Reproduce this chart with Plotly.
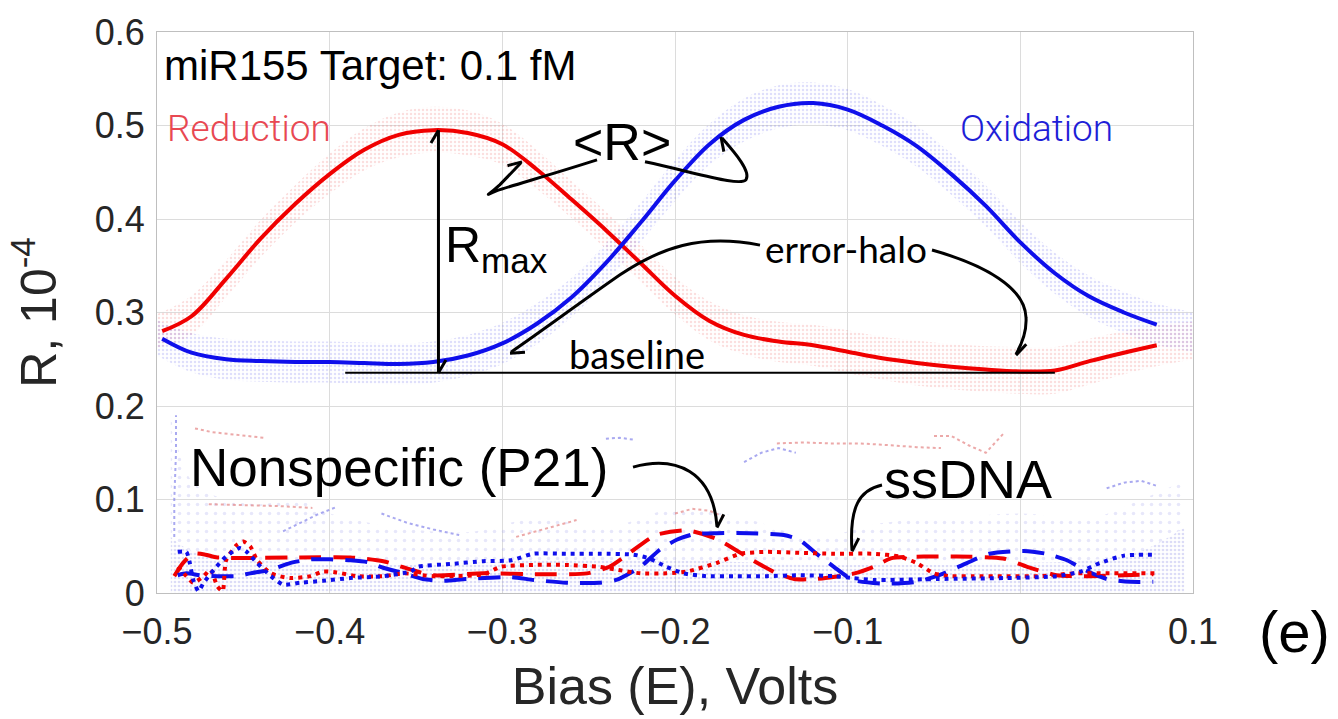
import math
import plotly.graph_objects as go

# ---------------- data ----------------
x_main = [-0.497, -0.48, -0.46, -0.44, -0.42, -0.40, -0.38, -0.36, -0.34, -0.32, -0.30, -0.28, -0.26, -0.24,
          -0.22, -0.20, -0.18, -0.16, -0.14, -0.12, -0.10, -0.08, -0.06, -0.04, -0.02, 0.00, 0.02, 0.04, 0.06, 0.079]
reduction_R = [0.280, 0.296, 0.336, 0.379, 0.416, 0.448, 0.474, 0.490, 0.495, 0.492, 0.480, 0.453, 0.421, 0.388,
               0.353, 0.318, 0.291, 0.276, 0.269, 0.265, 0.258, 0.251, 0.246, 0.242, 0.239, 0.237, 0.238, 0.248, 0.257, 0.265]
oxidation_R = [0.272, 0.257, 0.250, 0.248, 0.247, 0.247, 0.246, 0.245, 0.247, 0.254, 0.267, 0.288, 0.316, 0.353,
               0.396, 0.441, 0.480, 0.506, 0.520, 0.524, 0.517, 0.500, 0.478, 0.448, 0.414, 0.375, 0.342, 0.317, 0.300, 0.287]

# error halo envelopes
x_halo = [-0.50, -0.48, -0.46, -0.44, -0.42, -0.40, -0.38, -0.36, -0.34, -0.32, -0.30, -0.28, -0.26, -0.24, -0.22, -0.20,
          -0.18, -0.16, -0.14, -0.12, -0.10, -0.08, -0.06, -0.04, -0.02, 0.00, 0.02, 0.04, 0.06, 0.08, 0.10]
red_halo_hi = [0.298, 0.318, 0.356, 0.399, 0.436, 0.470, 0.497, 0.514, 0.520, 0.516, 0.502, 0.474, 0.441, 0.408, 0.373, 0.338,
               0.312, 0.297, 0.290, 0.287, 0.281, 0.274, 0.270, 0.266, 0.264, 0.263, 0.263, 0.272, 0.280, 0.287, 0.290]
red_halo_lo = [0.262, 0.276, 0.316, 0.359, 0.396, 0.427, 0.452, 0.466, 0.471, 0.468, 0.458, 0.432, 0.401, 0.368, 0.333, 0.298,
               0.270, 0.255, 0.247, 0.243, 0.235, 0.228, 0.222, 0.218, 0.215, 0.213, 0.213, 0.223, 0.234, 0.243, 0.250]
blue_halo_hi = [0.292, 0.278, 0.272, 0.270, 0.269, 0.269, 0.268, 0.267, 0.269, 0.276, 0.289, 0.310, 0.337, 0.374, 0.417, 0.463,
                0.502, 0.529, 0.543, 0.546, 0.539, 0.522, 0.500, 0.470, 0.436, 0.397, 0.364, 0.339, 0.322, 0.309, 0.300]
blue_halo_lo = [0.254, 0.236, 0.228, 0.226, 0.225, 0.225, 0.224, 0.223, 0.225, 0.232, 0.245, 0.266, 0.295, 0.332, 0.375, 0.419,
                0.458, 0.483, 0.497, 0.501, 0.495, 0.478, 0.456, 0.426, 0.392, 0.353, 0.320, 0.295, 0.278, 0.265, 0.258]

# nonspecific / ssDNA traces
rd_x = [-0.490, -0.485, -0.479, -0.472, -0.465, -0.417, -0.388, -0.369, -0.353, -0.340, -0.311, -0.278, -0.251, -0.238,
        -0.224, -0.211, -0.193, -0.176, -0.155, -0.141, -0.131, -0.118, -0.096, -0.085, -0.075, -0.056, -0.037, -0.010,
        0.004, 0.021, 0.040, 0.060, 0.077]
rd_y = [0.018, 0.032, 0.042, 0.041, 0.038, 0.038, 0.038, 0.034, 0.025, 0.019, 0.021, 0.020, 0.021, 0.028,
        0.046, 0.062, 0.067, 0.058, 0.035, 0.021, 0.015, 0.015, 0.021, 0.028, 0.037, 0.039, 0.039, 0.037,
        0.028, 0.019, 0.018, 0.019, 0.020]
bd_x = [-0.488, -0.483, -0.475, -0.465, -0.454, -0.446, -0.434, -0.423, -0.411, -0.400, -0.388, -0.378, -0.369, -0.357,
        -0.346, -0.334, -0.321, -0.295, -0.282, -0.263, -0.244, -0.234, -0.220, -0.209, -0.199, -0.189, -0.176, -0.157,
        -0.137, -0.128, -0.118, -0.108, -0.097, -0.079, -0.060, -0.047, -0.031, -0.018, 0.002, 0.015, 0.027, 0.037,
        0.050, 0.064, 0.077]
bd_y = [0.019, 0.021, 0.019, 0.018, 0.018, 0.021, 0.025, 0.032, 0.036, 0.036, 0.035, 0.033, 0.027, 0.021,
        0.015, 0.013, 0.015, 0.017, 0.014, 0.011, 0.011, 0.014, 0.028, 0.046, 0.057, 0.063, 0.064, 0.064,
        0.062, 0.057, 0.042, 0.028, 0.014, 0.010, 0.012, 0.019, 0.032, 0.042, 0.045, 0.042, 0.035, 0.025,
        0.015, 0.012, 0.012]
ro_x = [-0.488, -0.483, -0.479, -0.473, -0.469, -0.465, -0.462, -0.460, -0.454, -0.450, -0.446, -0.442, -0.434, -0.423,
        -0.411, -0.404, -0.396, -0.384, -0.369, -0.357, -0.340, -0.311, -0.301, -0.282, -0.263, -0.244, -0.234, -0.220,
        -0.205, -0.193, -0.176, -0.162, -0.147, -0.128, -0.108, -0.085, -0.070, -0.060, -0.050, -0.041, -0.027, -0.008,
        0.011, 0.031, 0.050, 0.079]
ro_y = [0.028, 0.018, 0.011, 0.018, 0.025, 0.007, 0.002, 0.035, 0.051, 0.055, 0.050, 0.035, 0.021, 0.016,
        0.018, 0.023, 0.022, 0.018, 0.018, 0.021, 0.018, 0.020, 0.028, 0.030, 0.030, 0.028, 0.025, 0.021,
        0.021, 0.023, 0.032, 0.042, 0.044, 0.043, 0.042, 0.042, 0.039, 0.032, 0.021, 0.018, 0.018, 0.018,
        0.018, 0.021, 0.021, 0.021]
bo_x = [-0.488, -0.483, -0.481, -0.479, -0.476, -0.473, -0.467, -0.460, -0.452, -0.448, -0.442, -0.434, -0.427, -0.417,
        -0.404, -0.388, -0.369, -0.353, -0.349, -0.330, -0.311, -0.295, -0.282, -0.263, -0.244, -0.224, -0.215, -0.205,
        -0.195, -0.182, -0.166, -0.147, -0.128, -0.108, -0.097, -0.085, -0.047, -0.008, 0.021, 0.035, 0.046, 0.060, 0.079]
bo_y = [0.044, 0.044, 0.032, 0.014, 0.002, 0.011, 0.025, 0.039, 0.048, 0.044, 0.032, 0.018, 0.009, 0.011,
        0.013, 0.016, 0.018, 0.023, 0.028, 0.031, 0.034, 0.035, 0.042, 0.042, 0.042, 0.041, 0.037, 0.028,
        0.021, 0.018, 0.018, 0.018, 0.019, 0.018, 0.016, 0.014, 0.015, 0.016, 0.018, 0.023, 0.032, 0.040, 0.041]

# background measurement noise envelopes (0 .. ~0.2 region)
noise_x = [-0.492, -0.48, -0.46, -0.44, -0.42, -0.40, -0.36, -0.32, -0.28, -0.24, -0.20, -0.16, -0.12, -0.08, -0.04,
           0.00, 0.04, 0.07, 0.095]
noise_dense = [0.060, 0.045, 0.040, 0.035, 0.032, 0.030, 0.030, 0.032, 0.035, 0.035, 0.035, 0.033, 0.030, 0.030, 0.030,
               0.032, 0.035, 0.045, 0.070]
noise_sparse = [0.190, 0.120, 0.100, 0.095, 0.100, 0.085, 0.070, 0.065, 0.080, 0.070, 0.090, 0.080, 0.060, 0.075, 0.080,
                0.085, 0.080, 0.100, 0.120]
faint_red_traces = [
    ([-0.478, -0.468, -0.458, -0.448, -0.438], [0.176, 0.172, 0.170, 0.168, 0.166]),
    ([-0.292, -0.280, -0.268, -0.257], [0.060, 0.066, 0.072, 0.078]),
    ([-0.141, -0.125, -0.110, -0.093, -0.075, -0.060, -0.046], [0.160, 0.161, 0.160, 0.160, 0.158, 0.156, 0.155]),
    ([-0.050, -0.040, -0.030, -0.020, -0.010], [0.168, 0.168, 0.158, 0.150, 0.170]),
    ([-0.470, -0.450, -0.430, -0.410], [0.095, 0.094, 0.093, 0.091]),
    ([-0.200, -0.190, -0.180, -0.170], [0.085, 0.090, 0.088, 0.080]),
]
faint_blue_traces = [
    ([-0.427, -0.417, -0.407, -0.396], [0.066, 0.075, 0.084, 0.092]),
    ([-0.240, -0.232, -0.224], [0.165, 0.166, 0.164]),
    ([0.050, 0.060, 0.070, 0.080], [0.112, 0.118, 0.120, 0.114]),
    ([-0.490, -0.490, -0.489, -0.489], [0.060, 0.100, 0.150, 0.190]),
    ([-0.370, -0.355, -0.340, -0.325], [0.085, 0.075, 0.068, 0.062]),
    ([-0.160, -0.150, -0.140, -0.130], [0.140, 0.150, 0.155, 0.150]),
]

x_ticks = [-0.5, -0.4, -0.3, -0.2, -0.1, 0.0, 0.1]
x_tick_text = ["\u22120.5", "\u22120.4", "\u22120.3", "\u22120.2", "\u22120.1", "0", "0.1"]
y_ticks = [0.0, 0.1, 0.2, 0.3, 0.4, 0.5, 0.6]
y_tick_text = ["0", "0.1", "0.2", "0.3", "0.4", "0.5", "0.6"]

baseline_level = 0.2355
baseline_x = [-0.391, 0.020]
rmax_x = -0.337
rmax_top = 0.495

# ---------------- styling ----------------
RED = "rgb(240,0,0)"
BLUE = "rgb(15,15,235)"
HELV = "Liberation Sans"
CALI = "Lato"

W, H = 1338, 719
ML, MR, MT, MB = 157, 145, 27, 126
XR = [-0.5, 0.1]
YR = [0.0, 0.6]


def px(x):
    return ML + (x - XR[0]) / (XR[1] - XR[0]) * (W - ML - MR)


def py(y):
    return (H - MB) - (y - YR[0]) / (YR[1] - YR[0]) * (H - MT - MB)


def dx(p):
    return XR[0] + (p - ML) / (W - ML - MR) * (XR[1] - XR[0])


def dy(p):
    return YR[0] + ((H - MB) - p) / (H - MT - MB) * (YR[1] - YR[0])


fig = go.Figure()

# halos
for lo, hi, col in [(red_halo_lo, red_halo_hi, "rgba(235,110,110,0.45)"),
                    (blue_halo_lo, blue_halo_hi, "rgba(110,110,235,0.45)")]:
    fig.add_trace(go.Scatter(x=x_halo, y=lo, mode="lines", line=dict(width=0, shape="spline"),
                             hoverinfo="skip", showlegend=False))
    fig.add_trace(go.Scatter(x=x_halo, y=hi, mode="lines", line=dict(width=0, shape="spline"),
                             fill="tonexty", fillcolor="rgba(0,0,0,0)",
                             fillpattern=dict(shape=".", fgcolor=col, bgcolor="rgba(0,0,0,0)", size=4, solidity=0.3),
                             hoverinfo="skip", showlegend=False))

# noise bands
fig.add_trace(go.Scatter(x=noise_x, y=[0] * len(noise_x), mode="lines", line=dict(width=0),
                         hoverinfo="skip", showlegend=False))
fig.add_trace(go.Scatter(x=noise_x, y=noise_dense, mode="lines", line=dict(width=0, shape="spline"),
                         fill="tonexty", fillcolor="rgba(0,0,0,0)",
                         fillpattern=dict(shape=".", fgcolor="rgba(140,140,230,0.6)", bgcolor="rgba(0,0,0,0)",
                                          size=4, solidity=0.35),
                         hoverinfo="skip", showlegend=False))
fig.add_trace(go.Scatter(x=noise_x, y=noise_sparse, mode="lines", line=dict(width=0, shape="spline"),
                         fill="tonexty", fillcolor="rgba(0,0,0,0)",
                         fillpattern=dict(shape=".", fgcolor="rgba(160,160,235,0.5)", bgcolor="rgba(0,0,0,0)",
                                          size=9, solidity=0.12),
                         hoverinfo="skip", showlegend=False))
for fx, fy in faint_red_traces:
    fig.add_trace(go.Scatter(x=fx, y=fy, mode="lines", line=dict(color="rgba(230,140,140,0.75)", width=2, dash="dot"),
                             hoverinfo="skip", showlegend=False))
for fx, fy in faint_blue_traces:
    fig.add_trace(go.Scatter(x=fx, y=fy, mode="lines", line=dict(color="rgba(140,140,235,0.75)", width=2, dash="dot"),
                             hoverinfo="skip", showlegend=False))

# nonspecific traces
fig.add_trace(go.Scatter(x=rd_x, y=rd_y, mode="lines", name="Nonspecific red",
                         line=dict(color=RED, width=4, dash="22px,12px", shape="spline", smoothing=0.6), showlegend=False))
fig.add_trace(go.Scatter(x=bd_x, y=bd_y, mode="lines", name="Nonspecific blue",
                         line=dict(color=BLUE, width=4, dash="22px,12px", shape="spline", smoothing=0.6), showlegend=False))
fig.add_trace(go.Scatter(x=ro_x, y=ro_y, mode="lines", name="ssDNA red",
                         line=dict(color=RED, width=4, dash="4px,5px", shape="spline", smoothing=0.6), showlegend=False))
fig.add_trace(go.Scatter(x=bo_x, y=bo_y, mode="lines", name="ssDNA blue",
                         line=dict(color=BLUE, width=4, dash="4px,5px", shape="spline", smoothing=0.6), showlegend=False))

# main <R> curves
fig.add_trace(go.Scatter(x=x_main, y=reduction_R, mode="lines", name="Reduction",
                         line=dict(color=RED, width=4, shape="spline"), showlegend=False))
fig.add_trace(go.Scatter(x=x_main, y=oxidation_R, mode="lines", name="Oxidation",
                         line=dict(color=BLUE, width=4, shape="spline"), showlegend=False))


# ---------------- annotation drawing helpers ----------------
def pth(cmds):
    """cmds: list of (letter, [(px,py),...]) in reference pixel space -> data-space SVG path"""
    out = []
    for c, pts in cmds:
        out.append(c + " " + " ".join(f"{dx(a):.5f},{dy(b):.5f}" for a, b in pts))
    return " ".join(out)


def head(tip, frm, L=15, ang=30):
    ux, uy = frm[0] - tip[0], frm[1] - tip[1]
    n = math.hypot(ux, uy)
    ux, uy = ux / n, uy / n
    pts = []
    for s in (ang, -ang):
        r = math.radians(s)
        bx = ux * math.cos(r) - uy * math.sin(r)
        by = ux * math.sin(r) + uy * math.cos(r)
        pts.append((tip[0] + L * bx, tip[1] + L * by))
    return pth([("M", [pts[0]]), ("L", [tip, pts[1]])])


shapes = []
LINE = dict(color="black", width=3)


def add_path(p, width=3):
    shapes.append(dict(type="path", xref="x", yref="y", path=p, line=dict(color="black", width=width),
                       fillcolor="rgba(0,0,0,0)", layer="above"))


# <R> arrows
add_path(pth([("M", [(597, 156)]), ("C", [(560, 168), (512, 182), (497, 187)]),
              ("C", [(484, 192), (486, 194), (500, 181)]), ("L", [(521, 159)])]))
add_path(head((522, 158), (505, 175)))
add_path(pth([("M", [(645, 158)]), ("C", [(700, 170), (740, 183), (746, 176)]),
              ("C", [(751, 168), (736, 150), (722, 134)])]))
add_path(head((721, 133), (734, 148)))
# R_max double arrow
shapes.append(dict(type="line", xref="x", yref="y", x0=rmax_x, x1=rmax_x, y0=rmax_top, y1=baseline_level,
                   line=LINE, layer="above"))
add_path(head((px(rmax_x), py(rmax_top)), (px(rmax_x), py(rmax_top) + 20)))
add_path(head((px(rmax_x), py(baseline_level)), (px(rmax_x), py(baseline_level) - 20)))
# baseline
shapes.append(dict(type="line", xref="x", yref="y", x0=baseline_x[0], x1=baseline_x[1], y0=baseline_level,
                   y1=baseline_level, line=dict(color="black", width=2), layer="above"))
# error-halo arrows
add_path(pth([("M", [(760, 242)]), ("C", [(700, 230), (660, 245), (620, 272)]),
              ("C", [(580, 300), (540, 330), (511, 350)])]))
add_path(head((510, 351), (530, 338)))
add_path(pth([("M", [(932, 247)]), ("C", [(985, 262), (1025, 285), (1026, 315)]),
              ("C", [(1027, 332), (1020, 345), (1016, 352)])]))
add_path(head((1016, 353), (1020, 336)))
# Nonspecific arrow
add_path(pth([("M", [(633, 466)]), ("C", [(676, 454), (713, 470), (717, 526)])]))
add_path(head((717, 527), (716, 508)))
# ssDNA arrow
add_path(pth([("M", [(882, 484)]), ("C", [(860, 489), (849, 505), (852, 550)])]))
add_path(head((852, 551), (851, 532)))

annotations = [
    dict(x=dx(162), y=dy(61), text="miR155 Target: 0.1 fM", xanchor="left", yanchor="middle",
         font=dict(family=HELV, size=42, color="black")),
    dict(x=dx(165), y=dy(124), text="Reduction", xanchor="left", yanchor="middle",
         font=dict(family="Roboto", size=37, color="rgb(232,72,82)", weight=300)),
    dict(x=dx(958), y=dy(124), text="Oxidation", xanchor="left", yanchor="middle",
         font=dict(family="Roboto", size=37, color="rgb(30,30,215)", weight=300)),
    dict(x=dx(622), y=dy(138), text="&lt;R&gt;", xanchor="center", yanchor="middle",
         font=dict(family=HELV, size=52, color="black")),
    dict(x=dx(443), y=dy(245), text="R<sub>max</sub>", xanchor="left", yanchor="middle",
         font=dict(family=HELV, size=50, color="black")),
    dict(x=dx(637), y=dy(352), text="baseline", xanchor="center", yanchor="middle",
         font=dict(family=CALI, size=38, color="black")),
    dict(x=dx(846), y=dy(245), text="error-halo", xanchor="center", yanchor="middle",
         font=dict(family=CALI, size=37, color="black")),
    dict(x=dx(188), y=dy(466), text="Nonspecific (P21)", xanchor="left", yanchor="middle",
         font=dict(family=HELV, size=53, color="black")),
    dict(x=dx(882), y=dy(478), text="ssDNA", xanchor="left", yanchor="middle",
         font=dict(family=HELV, size=54, color="black")),
    dict(x=(1294 - ML) / (W - ML - MR), y=(H - MB - 632) / (H - MT - MB), xref="paper", yref="paper",
         text="(e)", xanchor="center", yanchor="middle", font=dict(family=HELV, size=58, color="black")),
]
for a in annotations:
    a.setdefault("xref", "x")
    a.setdefault("yref", "y")
    a["showarrow"] = False

fig.update_layout(
    width=W, height=H,
    margin=dict(l=ML, r=MR, t=MT, b=MB),
    paper_bgcolor="white", plot_bgcolor="white",
    showlegend=False,
    shapes=shapes,
    annotations=annotations,
    font=dict(family=HELV),
    xaxis=dict(range=XR, tickvals=x_ticks, ticktext=x_tick_text, showgrid=True, gridcolor="#dcdcdc", gridwidth=1,
               zeroline=False, showline=True, mirror=True, linecolor="#bfbfbf", linewidth=1,
               ticks="outside", ticklen=7, tickcolor="rgba(0,0,0,0)",
               tickfont=dict(family=HELV, size=36, color="#262626"),
               title=dict(text="Bias (E), Volts", font=dict(family=HELV, size=52, color="#262626"), standoff=16)),
    yaxis=dict(range=YR, tickvals=y_ticks, ticktext=y_tick_text, showgrid=True, gridcolor="#dcdcdc", gridwidth=1,
               zeroline=False, showline=True, mirror=True, linecolor="#bfbfbf", linewidth=1,
               ticks="outside", ticklen=4, tickcolor="rgba(0,0,0,0)",
               tickfont=dict(family=HELV, size=36, color="#262626"),
               title=dict(text="R, 10<sup>-4</sup>", font=dict(family=HELV, size=50, color="#262626"), standoff=22)),
)

fig.write_html("out.html")
